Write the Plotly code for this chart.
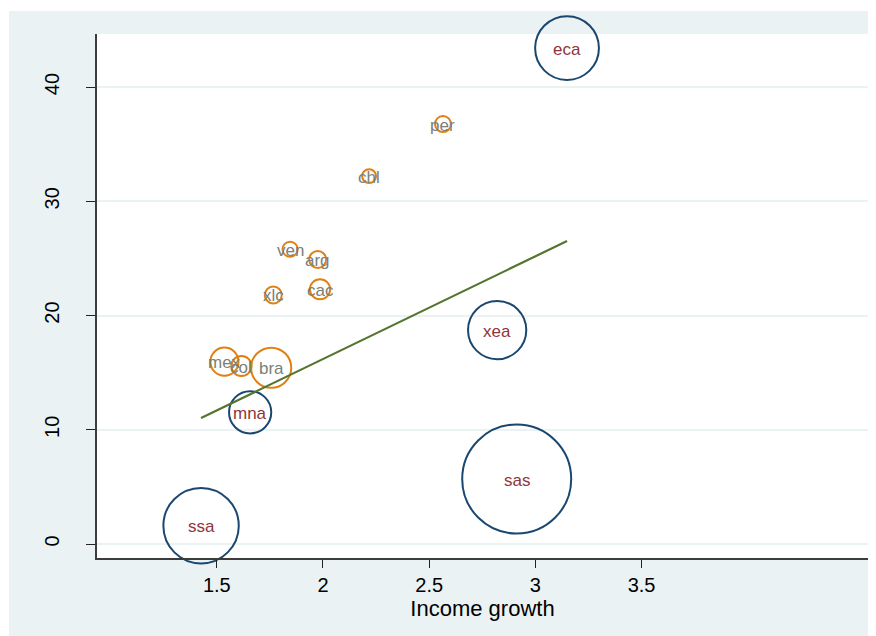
import plotly.graph_objects as go

# Region bubbles (navy)
region_lbl = ["eca", "xea", "sas", "mna", "ssa"]
region_x = [3.149, 2.82, 2.912, 1.657, 1.426]
region_y = [43.41, 18.73, 5.69, 11.53, 1.6]
region_pop = [480, 400, 1400, 210, 670]

# Latin America bubbles (orange)
latam_lbl = ["per", "chl", "ven", "arg", "cac", "xlc", "mex", "col", "bra"]
latam_x = [2.565, 2.217, 1.845, 1.975, 1.986, 1.766, 1.536, 1.616, 1.756]
latam_y = [36.76, 32.2, 25.8, 24.9, 22.3, 21.8, 15.96, 15.58, 15.43]
latam_pop = [30, 23, 27, 34, 48, 34, 93, 48, 190]

# Linear fit line
fit_x = [1.426, 3.149]
fit_y = [11.03, 26.52]

x_ticks = [1.5, 2, 2.5, 3, 3.5]
y_ticks = [0, 10, 20, 30, 40]

NAVY = "#1A476F"
MAROON = "#90353B"
ORANGE = "#E07F14"
GRAYLBL = "#7B8078"
GREEN = "#55752F"
BG = "#EAF2F3"
FONT = "Liberation Sans, Arial, sans-serif"
SIZEREF = 0.2357

fig = go.Figure()
fig.add_trace(go.Scatter(
    x=region_x, y=region_y, mode="markers",
    marker=dict(size=region_pop, sizemode="area", sizeref=SIZEREF, opacity=1,
                color="rgba(0,0,0,0)", line=dict(color=NAVY, width=2)),
    showlegend=False, cliponaxis=False))
fig.add_trace(go.Scatter(
    x=latam_x, y=latam_y, mode="markers",
    marker=dict(size=latam_pop, sizemode="area", sizeref=SIZEREF, opacity=1,
                color="rgba(0,0,0,0)", line=dict(color=ORANGE, width=2)),
    showlegend=False, cliponaxis=False))
fig.add_trace(go.Scatter(
    x=fit_x, y=fit_y, mode="lines",
    line=dict(color=GREEN, width=2.2), showlegend=False))

# marker labels
for lbls, xs, ys, col in [(region_lbl, region_x, region_y, MAROON),
                          (latam_lbl, latam_x, latam_y, GRAYLBL)]:
    for t, xv, yv in zip(lbls, xs, ys):
        fig.add_annotation(x=xv, y=yv, text=t, showarrow=False,
                           xanchor="center", yanchor="middle", yshift=-1,
                           font=dict(family=FONT, size=17, color=col))

# thin white strips at left and top (page edge)
fig.add_shape(type="rect", xref="paper", yref="paper",
              x0=-0.2, x1=(9 - 97) / 771, y0=-0.3, y1=1.2,
              fillcolor="white", line=dict(width=0), layer="below")
fig.add_shape(type="rect", xref="paper", yref="paper",
              x0=-0.2, x1=1.2, y0=1 + (34 - 11) / 524, y1=1.2,
              fillcolor="white", line=dict(width=0), layer="below")

fig.update_layout(
    width=868, height=628,
    margin=dict(l=89, r=8, t=26, b=78),
    paper_bgcolor=BG, plot_bgcolor="white",
    font=dict(family=FONT, color="#000000"),
    xaxis=dict(range=[0.936, 4.566], tickvals=x_ticks,
               ticktext=[("%g" % v) for v in x_ticks],
               showgrid=False, zeroline=False,
               showline=True, linecolor="#3C3C3C", linewidth=1.5,
               ticks="outside", ticklen=8, tickwidth=1.2, tickcolor="#222",
               tickfont=dict(size=20, family=FONT, color="#000"),
               title=dict(text="Income growth", font=dict(size=22, family=FONT, color="#000"), standoff=0)),
    yaxis=dict(range=[-1.225, 44.64], tickvals=y_ticks,
               ticktext=[str(v) for v in y_ticks],
               showgrid=True, gridcolor=BG, gridwidth=2, zeroline=False,
               showline=True, linecolor="#3C3C3C", linewidth=1.5,
               ticks="outside", ticklen=9, tickwidth=1.2, tickcolor="#222",
               tickangle=-90, ticklabelstandoff=19,
               tickfont=dict(size=20, family=FONT, color="#000")),
)

fig.write_html("out.html")
